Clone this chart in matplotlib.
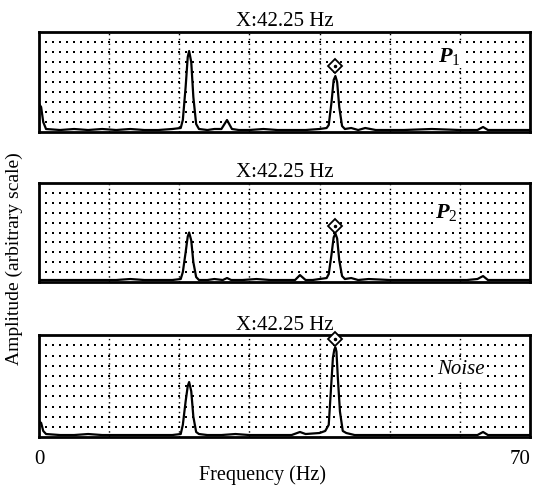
import numpy as np
import matplotlib.pyplot as plt

# spectra (frequency in Hz, amplitude as fraction of box height)
freq_p1 = [0, 0.3, 0.6, 1.0, 3, 5, 7, 9, 11, 13, 15, 17, 19, 20.2, 20.5, 20.9, 21.2, 21.4,
           21.7, 22.0, 22.4, 22.8, 24, 25, 26.0, 26.8, 27.5, 28.5, 30, 32, 34, 36, 38, 40,
           41.0, 41.3, 41.7, 42.0, 42.25, 42.5, 42.8, 43.2, 43.6, 44.5, 45.5, 46.5, 48, 52,
           56, 60, 62.5, 63.3, 64.0, 66, 70]
amp_p1 = [0.28, 0.25, 0.10, 0.03, 0.02, 0.03, 0.02, 0.03, 0.02, 0.03, 0.02, 0.02, 0.03, 0.04, 0.12,
          0.45, 0.75, 0.81, 0.70, 0.35, 0.08, 0.03, 0.02, 0.03, 0.03, 0.12, 0.03, 0.02, 0.02, 0.03,
          0.02, 0.02, 0.02, 0.03, 0.04, 0.07, 0.30, 0.52, 0.56, 0.50, 0.25, 0.06, 0.03, 0.04,
          0.02, 0.04, 0.02, 0.02, 0.03, 0.02, 0.02, 0.05, 0.02, 0.02, 0.02]

freq_p2 = [0, 3, 5, 7, 9, 11, 13, 15, 17, 19, 20.2, 20.5, 20.9, 21.2, 21.4, 21.7, 22.0, 22.4,
           22.8, 24, 25, 26.2, 26.8, 27.4, 29, 31, 33, 35, 36.5, 37.2, 38.0, 39, 40, 41.0, 41.3,
           41.7, 42.0, 42.25, 42.5, 42.8, 43.2, 43.6, 44.5, 45.5, 47, 50, 54, 58, 61, 62.5,
           63.3, 64.0, 66, 70]
amp_p2 = [0.02, 0.02, 0.02, 0.02, 0.02, 0.02, 0.03, 0.02, 0.02, 0.02, 0.03, 0.10, 0.30, 0.46,
          0.50, 0.42, 0.20, 0.05, 0.02, 0.02, 0.03, 0.02, 0.04, 0.02, 0.02, 0.03, 0.02, 0.02,
          0.02, 0.07, 0.02, 0.02, 0.03, 0.04, 0.08, 0.28, 0.45, 0.49, 0.44, 0.22, 0.06, 0.03,
          0.04, 0.02, 0.03, 0.02, 0.02, 0.02, 0.02, 0.03, 0.06, 0.02, 0.02, 0.02]

freq_n = [0, 0.3, 0.6, 1.0, 3, 5, 7, 9, 11, 13, 15, 17, 19, 20.2, 20.5, 20.9, 21.2, 21.4, 21.7,
          22.0, 22.4, 22.8, 24, 26, 28, 30, 32, 34, 36, 37.2, 38, 40, 40.8, 41.3, 41.6, 41.9,
          42.1, 42.25, 42.4, 42.6, 42.9, 43.3, 43.8, 45, 47, 50, 54, 58, 61, 62.5, 63.3, 64.0,
          66, 70]
amp_n = [0.15, 0.14, 0.06, 0.03, 0.02, 0.02, 0.03, 0.02, 0.02, 0.02, 0.02, 0.02, 0.02, 0.03,
         0.12, 0.35, 0.50, 0.54, 0.45, 0.20, 0.05, 0.03, 0.02, 0.02, 0.03, 0.02, 0.02, 0.02,
         0.02, 0.05, 0.03, 0.04, 0.06, 0.12, 0.45, 0.78, 0.86, 0.88, 0.84, 0.58, 0.25, 0.06,
         0.04, 0.02, 0.02, 0.02, 0.02, 0.02, 0.02, 0.02, 0.05, 0.02, 0.02, 0.02]

peak_freq = 42.25
panel_labels = ['$P_1$', '$P_2$', 'Noise']
titles = ['X:42.25 Hz', 'X:42.25 Hz', 'X:42.25 Hz']

plt.rcParams['font.family'] = ['Liberation Serif', 'DejaVu Serif']
plt.rcParams['mathtext.fontset'] = 'custom'
plt.rcParams['mathtext.it'] = 'Liberation Serif:italic:bold'
plt.rcParams['mathtext.rm'] = 'Liberation Serif'

fig = plt.figure(figsize=(5.39, 4.90), dpi=100)
rects = [[0.0724, 0.7306, 0.911, 0.204],
         [0.0724, 0.4245, 0.911, 0.202],
         [0.0724, 0.108, 0.911, 0.208]]
data = [(freq_p1, amp_p1), (freq_p2, amp_p2), (freq_n, amp_n)]
label_pos = [(0.835, 0.76), (0.83, 0.70), (0.86, 0.66)]
marker_gap = [0.1, 0.08, 0.08]

for i in range(3):
    ax = fig.add_axes(rects[i])
    f, a = data[i]
    # dotted grid
    gx, gy = np.meshgrid(np.arange(1, 70), np.arange(0.1, 1.0, 0.1))
    ax.scatter(gx.ravel(), gy.ravel(), s=1.6, c='black', marker='s', linewidths=0, zorder=1)
    for xv in range(10, 70, 10):
        ax.axvline(xv, color='black', lw=1.0, linestyle=(0, (1, 2.5)), zorder=1)
    ax.plot(f, a, color='black', lw=1.6, zorder=3)
    pk = np.interp(peak_freq, f, a) + marker_gap[i]
    ax.plot([peak_freq], [pk], marker='D', ms=7, mfc='white', mec='black', mew=1.3,
            zorder=6, clip_on=False)
    ax.plot([peak_freq], [pk], marker='o', ms=1.5, color='black', zorder=7, clip_on=False)
    ax.set_xlim(0, 70)
    ax.set_ylim(0, 1)
    ax.set_xticks([])
    ax.set_yticks([])
    for s in ax.spines.values():
        s.set_linewidth(2)
    ax.set_title(titles[i], fontsize=15, pad=4)
    lx, ly = label_pos[i]
    if i < 2:
        ax.text(lx, ly, panel_labels[i], transform=ax.transAxes, fontsize=16,
                ha='center', va='center',
                bbox=dict(facecolor='white', edgecolor='none', pad=1))
    else:
        ax.text(lx, ly, panel_labels[i], transform=ax.transAxes, fontsize=15,
                style='italic', ha='center', va='center',
                bbox=dict(facecolor='white', edgecolor='none', pad=0.5))
    if i == 2:
        ax.text(0, -0.22, '0', transform=ax.transAxes, fontsize=15, ha='center', va='center')
        ax.text(0.98, -0.22, '70', transform=ax.transAxes, fontsize=15, ha='center', va='center')
        ax.text(0.455, -0.37, 'Frequency (Hz)', transform=ax.transAxes, fontsize=14.5,
                ha='center', va='center')

fig.text(0.026, 0.473, 'Amplitude (arbitrary scale)', rotation=90, fontsize=14,
         ha='center', va='center')

fig.savefig('out.png', dpi=100)
